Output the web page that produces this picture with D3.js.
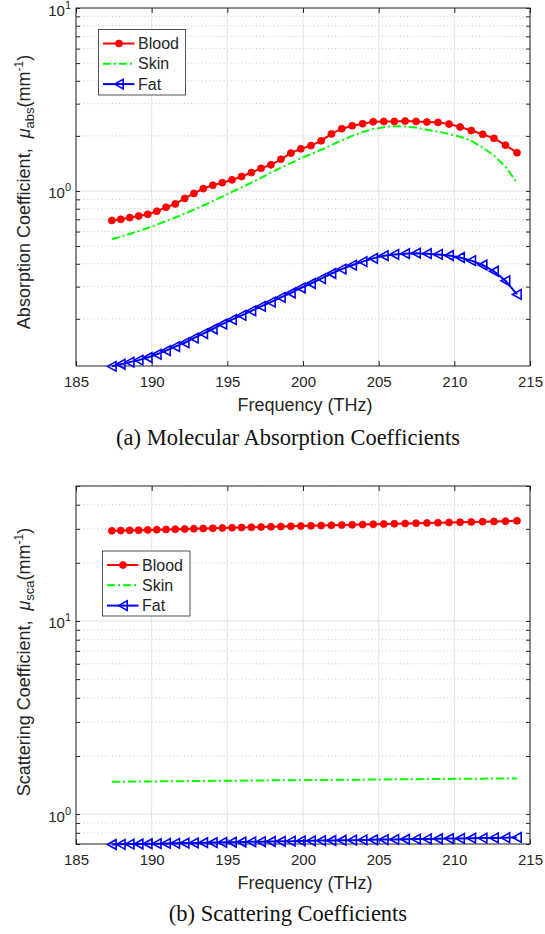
<!DOCTYPE html>
<html>
<head>
<meta charset="utf-8">
<script src="https://cdn.jsdelivr.net/npm/d3@7"></script>
<style>
  body { margin: 0; background: #fff; }
  svg { display: block; }
</style>
</head>
<body>
<div id="chart"></div>
<script>
// frequency points (THz)
const freq = [187.37, 187.96, 188.55, 189.14, 189.74, 190.34, 190.95, 191.56, 192.18, 192.79,
  193.41, 194.04, 194.67, 195.31, 195.94, 196.59, 197.23, 197.88, 198.54, 199.20,
  199.86, 200.53, 201.20, 201.88, 202.56, 203.25, 203.94, 204.64, 205.34, 206.04,
  206.75, 207.47, 208.19, 208.92, 209.65, 210.38, 211.12, 211.87, 212.62, 213.38, 214.14];

// (a) absorption coefficients, mm^-1
const absBlood = [0.69, 0.70, 0.715, 0.73, 0.745, 0.775, 0.815, 0.85, 0.91, 0.97,
  1.03, 1.075, 1.11, 1.15, 1.20, 1.26, 1.33, 1.39, 1.49, 1.61,
  1.70, 1.77, 1.88, 2.05, 2.19, 2.27, 2.33, 2.39, 2.40, 2.40,
  2.41, 2.40, 2.38, 2.37, 2.32, 2.24, 2.14, 2.04, 1.94, 1.78, 1.62];
const absSkin = [0.545, 0.563, 0.582, 0.604, 0.628, 0.655, 0.684, 0.716, 0.752, 0.790,
  0.833, 0.880, 0.932, 0.988, 1.047, 1.11, 1.18, 1.26, 1.34, 1.42,
  1.51, 1.59, 1.68, 1.78, 1.89, 2.00, 2.10, 2.18, 2.23, 2.26,
  2.25, 2.22, 2.16, 2.11, 2.05, 1.98, 1.88, 1.73, 1.56, 1.36, 1.11];
const absFat = [0.110, 0.113, 0.116, 0.119, 0.123, 0.128, 0.134, 0.141, 0.148, 0.157,
  0.166, 0.176, 0.187, 0.198, 0.209, 0.221, 0.234, 0.247, 0.262, 0.277,
  0.295, 0.312, 0.332, 0.354, 0.374, 0.393, 0.411, 0.428, 0.443, 0.450,
  0.454, 0.457, 0.454, 0.450, 0.444, 0.433, 0.416, 0.394, 0.364, 0.323, 0.272];

// (b) scattering coefficients, mm^-1
const scaBlood = [29.30, 29.38, 29.46, 29.54, 29.63, 29.71, 29.79, 29.88, 29.96, 30.05,
  30.13, 30.22, 30.31, 30.40, 30.48, 30.57, 30.66, 30.75, 30.84, 30.93,
  31.02, 31.12, 31.21, 31.30, 31.40, 31.49, 31.59, 31.68, 31.78, 31.88,
  31.97, 32.07, 32.17, 32.27, 32.37, 32.48, 32.58, 32.68, 32.78, 32.89, 33.00];
const scaSkin = [1.470, 1.471, 1.473, 1.474, 1.476, 1.477, 1.478, 1.480, 1.481, 1.483,
  1.484, 1.486, 1.487, 1.489, 1.490, 1.492, 1.493, 1.495, 1.496, 1.498,
  1.499, 1.501, 1.502, 1.504, 1.505, 1.507, 1.508, 1.510, 1.512, 1.513,
  1.515, 1.516, 1.518, 1.519, 1.521, 1.523, 1.524, 1.526, 1.527, 1.529, 1.530];
const scaFat = [0.696, 0.697, 0.699, 0.700, 0.702, 0.703, 0.705, 0.706, 0.708, 0.709,
  0.711, 0.712, 0.714, 0.715, 0.717, 0.718, 0.720, 0.721, 0.723, 0.724,
  0.726, 0.727, 0.729, 0.730, 0.732, 0.733, 0.735, 0.736, 0.738, 0.739,
  0.741, 0.742, 0.744, 0.745, 0.747, 0.748, 0.750, 0.751, 0.753, 0.755, 0.757];

const seriesNames = ['Blood', 'Skin', 'Fat'];
const xTicks = [185, 190, 195, 200, 205, 210, 215];

const W = 545, H = 934;
const left = 76, right = 530;
const textColor = '#262626';
const sansFont = '"Liberation Sans", Arial, Helvetica, sans-serif';
const serifFont = '"Liberation Serif", "Times New Roman", serif';

const styles = {
    Blood: { color: '#ff0000', dash: null, width: 2, marker: 'circle' },
    Skin: { color: '#00ff00', dash: '8,3,2,3', width: 2, marker: null },
    Fat: { color: '#0000ff', dash: null, width: 2, marker: 'triangle' }
};

const svg = d3.select('#chart')
    .append('svg')
    .attr('width', W)
    .attr('height', H)
    .attr('viewBox', `0 0 ${W} ${H}`);

const x = d3.scaleLinear().domain([185, 215]).range([left, right]);

function drawMarker(sel, type, color) {
    if (type === 'circle') {
        sel.append('circle')
            .attr('r', 3.5)
            .attr('fill', color)
            .attr('stroke', color)
            .attr('stroke-width', 0.8);
    } else if (type === 'triangle') {
        sel.append('path')
            .attr('d', 'M-4.5,0L4.2,-4.8L4.2,4.8Z')
            .attr('fill', 'none')
            .attr('stroke', color)
            .attr('stroke-width', 1.6);
    }
}

function drawPanel(cfg) {
    const y = d3.scaleLog().domain(cfg.yDomain).range([cfg.bottom, cfg.top]);
    const g = svg.append('g');

    // split log ticks into decades (solid grid) and minors (dotted grid)
    const decades = [];
    const minors = [];
    const lo = Math.floor(Math.log10(cfg.yDomain[0]));
    const hi = Math.ceil(Math.log10(cfg.yDomain[1]));
    for (let e = lo; e <= hi; e++) {
        const base = Math.pow(10, e);
        for (let k = 1; k < 10; k++) {
            const v = k * base;
            if (v < cfg.yDomain[0] * 0.999 || v > cfg.yDomain[1] * 1.001) continue;
            if (k === 1) decades.push(v); else minors.push(v);
        }
    }

    g.selectAll('line.minor')
        .data(minors)
        .join('line')
        .attr('class', 'minor')
        .attr('x1', left).attr('x2', right)
        .attr('y1', d => y(d)).attr('y2', d => y(d))
        .attr('stroke', '#c8c8c8')
        .attr('stroke-width', 1)
        .attr('stroke-dasharray', '1,2.6');

    g.selectAll('line.xgrid')
        .data(xTicks)
        .join('line')
        .attr('class', 'xgrid')
        .attr('x1', d => x(d)).attr('x2', d => x(d))
        .attr('y1', cfg.top).attr('y2', cfg.bottom)
        .attr('stroke', '#e3e3e3')
        .attr('stroke-width', 1);

    g.selectAll('line.ygrid')
        .data(decades)
        .join('line')
        .attr('class', 'ygrid')
        .attr('x1', left).attr('x2', right)
        .attr('y1', d => y(d)).attr('y2', d => y(d))
        .attr('stroke', '#e3e3e3')
        .attr('stroke-width', 1);

    // axes: ticks pointing inward on all four sides
    const axisBottom = g.append('g')
        .attr('transform', `translate(0,${cfg.bottom})`)
        .call(d3.axisBottom(x).tickValues(xTicks).tickSizeInner(-5).tickSizeOuter(0).tickPadding(10).tickFormat(d3.format('d')));
    const axisTop = g.append('g')
        .attr('transform', `translate(0,${cfg.top})`)
        .call(d3.axisTop(x).tickValues(xTicks).tickSizeInner(-5).tickSizeOuter(0).tickFormat(''));
    const allY = decades.concat(minors);
    const axisLeft = g.append('g')
        .attr('transform', `translate(${left},0)`)
        .call(d3.axisLeft(y).tickValues(allY).tickSizeInner(-4).tickSizeOuter(0).tickFormat(''));
    const axisRight = g.append('g')
        .attr('transform', `translate(${right},0)`)
        .call(d3.axisRight(y).tickValues(allY).tickSizeInner(-4).tickSizeOuter(0).tickFormat(''));

    [axisBottom, axisTop, axisLeft, axisRight].forEach(a => {
        a.select('.domain').remove();
        a.selectAll('line').attr('stroke', textColor).attr('stroke-width', 1);
    });
    axisBottom.selectAll('text')
        .attr('font-family', sansFont)
        .attr('font-size', 15)
        .attr('fill', textColor);

    g.append('rect')
        .attr('x', left).attr('y', cfg.top)
        .attr('width', right - left).attr('height', cfg.bottom - cfg.top)
        .attr('fill', 'none')
        .attr('stroke', textColor)
        .attr('stroke-width', 1);

    // y tick labels 10^n
    const yl = g.selectAll('text.ylab')
        .data(decades)
        .join('text')
        .attr('class', 'ylab')
        .attr('x', left - 5)
        .attr('y', d => y(d) + 7.5)
        .attr('text-anchor', 'end')
        .attr('font-family', sansFont)
        .attr('font-size', 15)
        .attr('fill', textColor);
    yl.append('tspan').text('10');
    yl.append('tspan')
        .attr('dy', -7)
        .attr('font-size', 11)
        .text(d => Math.round(Math.log10(d)));

    // series
    const line = d3.line().x(d => x(d[0])).y(d => y(d[1]));
    cfg.series.forEach((vals, i) => {
        const st = styles[seriesNames[i]];
        const pts = freq.map((f, j) => [f, vals[j]]);
        g.append('path')
            .datum(pts)
            .attr('d', line)
            .attr('fill', 'none')
            .attr('stroke', st.color)
            .attr('stroke-width', st.width)
            .attr('stroke-dasharray', st.dash);
        if (st.marker) {
            g.append('g').selectAll('g')
                .data(pts)
                .join('g')
                .attr('transform', d => `translate(${x(d[0])},${y(d[1])})`)
                .each(function () { drawMarker(d3.select(this), st.marker, st.color); });
        }
    });

    // legend
    const lg = g.append('g').attr('transform', `translate(${cfg.legend.x},${cfg.legend.y})`);
    lg.append('rect')
        .attr('width', cfg.legend.w).attr('height', cfg.legend.h)
        .attr('fill', '#fff')
        .attr('stroke', textColor)
        .attr('stroke-width', 0.8);
    seriesNames.forEach((name, i) => {
        const st = styles[name];
        const ly = 14 + i * 20.3;
        lg.append('line')
            .attr('x1', 4.5).attr('x2', 36)
            .attr('y1', ly).attr('y2', ly)
            .attr('stroke', st.color)
            .attr('stroke-width', st.width)
            .attr('stroke-dasharray', st.dash);
        if (st.marker) {
            drawMarker(lg.append('g').attr('transform', `translate(20.5,${ly})`), st.marker, st.color);
        }
        lg.append('text')
            .attr('x', 39.5).attr('y', ly + 5.5)
            .attr('font-family', sansFont)
            .attr('font-size', 16)
            .attr('fill', textColor)
            .text(name);
    });

    // x label
    g.append('text')
        .attr('x', (left + right) / 2 + 2)
        .attr('y', cfg.bottom + 45)
        .attr('text-anchor', 'middle')
        .attr('font-family', sansFont)
        .attr('font-size', 18)
        .attr('fill', textColor)
        .text('Frequency (THz)');

    // y label
    const yt = g.append('text')
        .attr('transform', `translate(30,${cfg.labelY}) rotate(-90)`)
        .attr('text-anchor', 'middle')
        .attr('font-family', sansFont)
        .attr('font-size', 18)
        .attr('fill', textColor);
    yt.append('tspan').text(cfg.yTitle + ',\u00a0\u00a0');
    yt.append('tspan').attr('font-style', 'italic').text('\u03bc');
    yt.append('tspan').attr('dy', 4).attr('font-size', 13).text(cfg.sub);
    yt.append('tspan').attr('dy', -4).text('(mm');
    yt.append('tspan').attr('dy', -7).attr('font-size', 12).text('-1');
    yt.append('tspan').attr('dy', 7).text(')');

    // caption
    svg.append('text')
        .attr('x', 288)
        .attr('y', cfg.captionY)
        .attr('text-anchor', 'middle')
        .attr('font-family', serifFont)
        .attr('font-size', 22.5)
        .attr('fill', '#111')
        .text(cfg.caption);
}

drawPanel({
    top: 8, bottom: 366,
    yDomain: [0.1105, 10],
    series: [absBlood, absSkin, absFat],
    legend: { x: 98.5, y: 29.5, w: 87, h: 65.5 },
    yTitle: 'Absorption Coefficient',
    sub: 'abs',
    labelY: 192,
    caption: '(a) Molecular Absorption Coefficients',
    captionY: 445
});

drawPanel({
    top: 486, bottom: 844,
    yDomain: [0.7, 50],
    series: [scaBlood, scaSkin, scaFat],
    legend: { x: 102.5, y: 551, w: 87.5, h: 65 },
    yTitle: 'Scattering Coefficient',
    sub: 'sca',
    labelY: 662,
    caption: '(b) Scattering Coefficients',
    captionY: 921
});
</script>
</body>
</html>
